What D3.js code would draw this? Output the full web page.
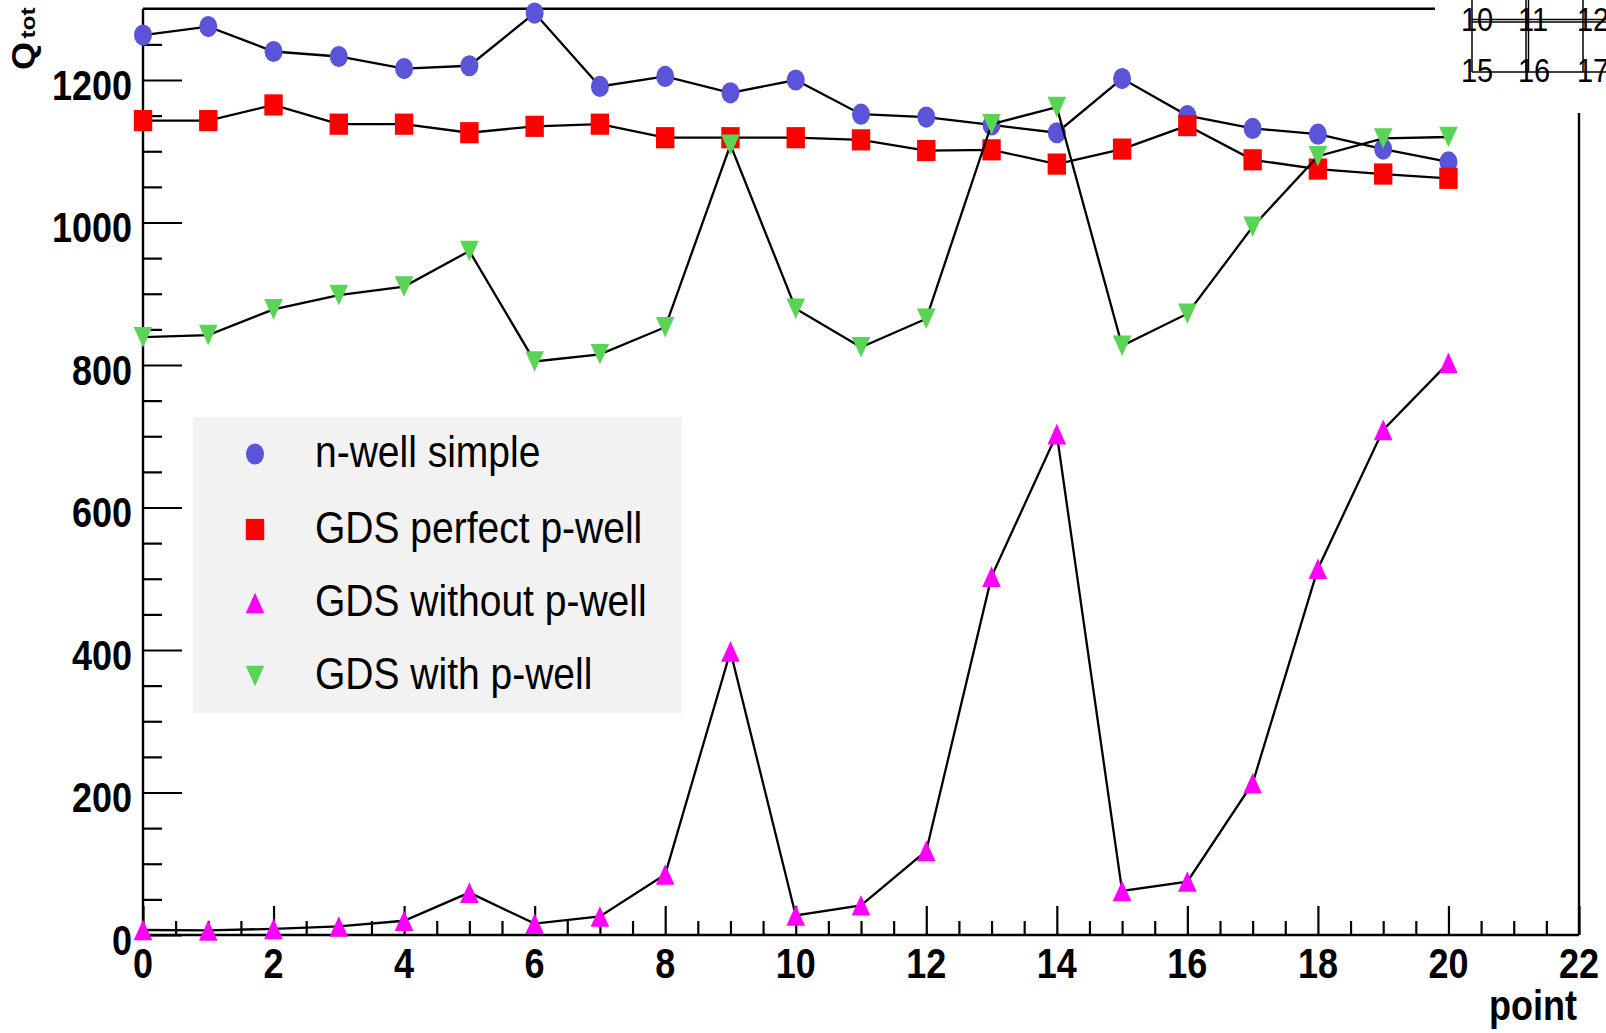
<!DOCTYPE html>
<html><head><meta charset="utf-8">
<script src="https://cdn.jsdelivr.net/npm/d3@7"></script>
<style>
html,body{margin:0;padding:0;background:#fff;}
svg{display:block;}
text{font-family:"Liberation Sans",Arial,Helvetica,sans-serif;fill:#000;}
</style>
</head><body>
<svg id="chart" width="1606" height="1033"></svg>
<script>
// ---- data ----
const points = [0,1,2,3,4,5,6,7,8,9,10,11,12,13,14,15,16,17,18,19,20];
const nwellSimple = [1263,1275,1240,1233,1216,1220,1294,1191,1205,1182,1200,1152,1148,1137,1126,1202,1150,1132,1124,1103,1085];
const gdsPerfect  = [1143,1143,1165,1138,1138,1126,1135,1138,1119,1119,1119,1116,1101,1102,1082,1103,1136,1088,1075,1068,1062];
const gdsWithout  = [7,6.5,8.6,12,20,59.5,16,26,85,398,27.5,41.7,118,503,703,62,75,213,514,709,803];
const gdsWith     = [839,842,878,898,910,960,805,815,853,1109,879,825,865,1138,1162,827,872,994,1093,1118,1120];
const seriesNames = ["n-well simple","GDS perfect p-well","GDS without p-well","GDS with p-well"];
const seriesColors = ["#5954d8","#ff0000","#ff00ff","#59d454"];
const seriesShapes = ["circle","square","triUp","triDown"];
const xTickLabels = [0,2,4,6,8,10,12,14,16,18,20,22];
const yTickLabels = [0,200,400,600,800,1000,1200];
const padLabels = [["10","11","12"],["15","16","17"]];
const xTitle = "point";
const yTitleMain = "Q";
const yTitleSub = "tot";

// ---- layout ----
const SY = 1.16; // vertical stretch of the original picture
const svg = d3.select("#chart");
const x = d3.scaleLinear().domain([0,22]).range([143,1579]);
const y = d3.scaleLinear().domain([0,1300]).range([935,8.75]);

function addText(g, px, py, str, size, weight, anchor, sy){
  return g.append("text")
    .attr("transform", `translate(${px},${py}) scale(1,${sy})`)
    .attr("font-size", size)
    .attr("font-weight", weight)
    .attr("text-anchor", anchor)
    .text(str);
}

function markerPath(shape){
  switch(shape){
    case "circle": return null;
    case "square": return "M-9.2,-10.6L9.2,-10.6L9.2,10.6L-9.2,10.6Z";
    case "triUp": return "M0,-10.3L9.3,10.3L-9.3,10.3Z";
    case "triDown": return "M-9.3,-10.3L9.3,-10.3L0,10.3Z";
  }
}
function drawMarker(g, cx, cy, shape, color){
  if(shape === "circle"){
    g.append("ellipse").attr("cx",cx).attr("cy",cy).attr("rx",9).attr("ry",10.6).attr("fill",color);
  } else {
    g.append("path").attr("d", markerPath(shape)).attr("transform",`translate(${cx},${cy})`).attr("fill",color);
  }
}

// ---- axes ticks ----
const yMinor = d3.range(0,1300,50).filter(v => v % 200 !== 0);
const xMinor = d3.range(0,22,0.5).filter(v => v % 2 !== 0);

function styleAxis(g){
  g.select(".domain").remove();
  g.selectAll("line").attr("stroke","#000").attr("stroke-width",2.2);
}
svg.append("g").attr("transform","translate(143,0)")
  .call(d3.axisRight(y).tickValues(yTickLabels).tickSize(39).tickFormat(""))
  .call(styleAxis);
svg.append("g").attr("transform","translate(143,0)")
  .call(d3.axisRight(y).tickValues(yMinor).tickSize(19).tickFormat(""))
  .call(styleAxis);
svg.append("g").attr("transform","translate(0,935)")
  .call(d3.axisTop(x).tickValues(xTickLabels).tickSize(29).tickFormat(""))
  .call(styleAxis);
svg.append("g").attr("transform","translate(0,935)")
  .call(d3.axisTop(x).tickValues(xMinor).tickSize(14).tickFormat(""))
  .call(styleAxis);

// ---- frame ----
const frame = svg.append("g").attr("stroke","#000").attr("stroke-width",2.4);
frame.append("line").attr("x1",x(0)).attr("x2",x(0)).attr("y1",y(1300)).attr("y2",y(0));
frame.append("line").attr("x1",x(0)).attr("x2",x(22)).attr("y1",y(0)).attr("y2",y(0));
frame.append("line").attr("x1",x(0)).attr("x2",1435).attr("y1",y(1300)).attr("y2",y(1300));
frame.append("line").attr("x1",x(22)).attr("x2",x(22)).attr("y1",113).attr("y2",y(0));

// ---- tick labels ----
const labels = svg.append("g");
yTickLabels.forEach(v => addText(labels, 132, y(v)+19.5, String(v), 36, "bold", "end", SY));
xTickLabels.forEach(v => addText(labels, x(v), 978, String(v), 36, "bold", "middle", SY));
addText(labels, 1577, 1020, xTitle, 36, "bold", "end", SY);

// y title Q_tot (rotated)
const yt = svg.append("text")
  .attr("transform", `translate(34,70) scale(1,${SY}) rotate(-90)`)
  .attr("font-weight","bold");
yt.append("tspan").attr("font-size",31).text(yTitleMain);
yt.append("tspan").attr("font-size",21).attr("dx",3).attr("dy",1).text(yTitleSub);

// ---- series ----
const seriesData = [nwellSimple, gdsPerfect, gdsWithout, gdsWith];
const line = d3.line().x((d,i) => x(points[i])).y(d => y(d));
seriesData.forEach((vals, s) => {
  const g = svg.append("g");
  g.append("path").attr("d", line(vals)).attr("fill","none").attr("stroke","#000").attr("stroke-width",2.3);
  vals.forEach((v,i) => drawMarker(g, x(points[i]), y(v), seriesShapes[s], seriesColors[s]));
});

// ---- legend ----
const leg = svg.append("g");
leg.append("rect").attr("x",193).attr("y",417).attr("width",489).attr("height",296).attr("fill","#f2f2f2");
const legBase = [467, 542.5, 616, 689];
seriesNames.forEach((name, s) => {
  drawMarker(leg, 255, legBase[s]-13, seriesShapes[s], seriesColors[s]);
  addText(leg, 315, legBase[s], name, 39, "normal", "start", 1.13);
});

// ---- stray pad grid in the top-right corner (labels cut at the edge as in the reference) ----
const pad = svg.append("g");
pad.append("rect").attr("x",1436).attr("y",0).attr("width",170).attr("height",112).attr("fill","#fff");
const pl = pad.append("g").attr("stroke","#000").attr("stroke-width",1.5);
[1472, 1526, 1528.5, 1583].forEach(px => pl.append("line").attr("x1",px).attr("x2",px).attr("y1",0).attr("y2",72));
[19.5, 22].forEach(py => pl.append("line").attr("x1",1472).attr("x2",1606).attr("y1",py).attr("y2",py));
pl.append("line").attr("x1",1472).attr("x2",1606).attr("y1",72).attr("y2",72);
const padX = [1461, 1518, 1577];
const padY = [31, 82];
padLabels.forEach((row, r) => row.forEach((t, c) => addText(pad, padX[c], padY[r], t, 29, "normal", "start", SY)));
</script>
</body></html>
